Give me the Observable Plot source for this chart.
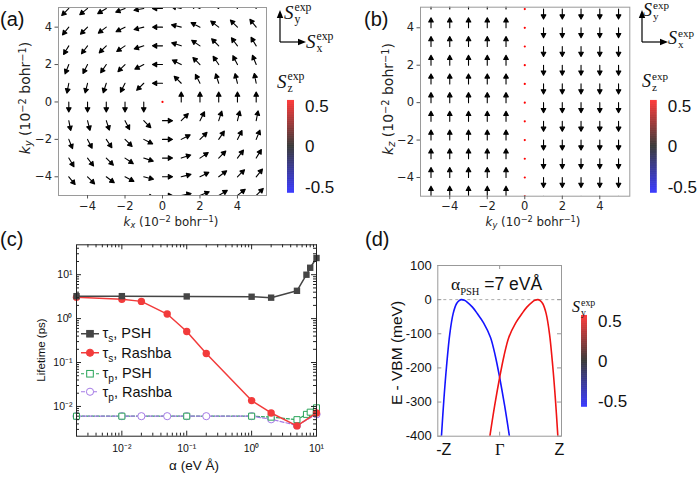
<!DOCTYPE html>
<html><head><meta charset="utf-8">
<script src="https://cdn.jsdelivr.net/npm/d3@7"></script>
<script src="https://cdn.jsdelivr.net/npm/@observablehq/plot@0.6"></script>
<style>
html,body{margin:0;padding:0;background:#fff;}
#root{position:relative;width:700px;height:501px;overflow:hidden;font-family:"Liberation Sans",Arial,sans-serif;color:#111;}
.abs{position:absolute;white-space:nowrap;line-height:1;}
.c{transform:translate(-50%,-50%);}
.rot{transform:translate(-50%,-50%) rotate(-90deg);}
.mpl{font-family:"DejaVu Sans",sans-serif;color:#222;}
.serif{font-family:"Liberation Serif","Times New Roman",serif;}
sup,sub{font-size:70%;line-height:0;}
.mpl sup{vertical-align:0.45em;}
.mpl sub{vertical-align:-0.25em;}
.ssS{font-family:"Liberation Serif",serif;font-style:italic;}
.ssB{display:inline-block;vertical-align:top;font-family:"Liberation Serif",serif;line-height:1;}
.ssB span{display:block;}
.leg{display:flex;align-items:center;font-size:14.5px;}
svg.plot-el{position:absolute;overflow:visible;}
</style></head><body><div id="root"></div>
<script>
// ---------------- DATA ----------------
// (a) in-plane spin texture, rows = ky (top to bottom), cols = kx; angle clockwise from +y, null = no in-plane spin
const kxA = [-5,-4,-3,-2,-1,0,1,2,3,4,5];
const kyA = [5,4,3,2,1,0,-1,-2,-3,-4,-5];
const angA = [
  [-135,-129,-121,-112,-101,-90,-79,-68,-59,-51,-45],
  [-141,-135,-127,-117,-104,-90,-76,-63,-53,-45,-39],
  [-149,-143,-135,-124,-108,-90,-72,-56,-45,-37,-31],
  [-158,-153,-146,-135,-117,-90,-63,-45,-34,-27,-22],
  [-169,-166,-162,-153,-135,-90,-45,-27,-18,-14,-11],
  [180,180,180,180,180,null,0,0,0,0,0],
  [169,166,162,153,135,90,45,27,18,14,11],
  [158,153,146,135,117,90,63,45,34,27,22],
  [149,143,135,124,108,90,72,56,45,37,31],
  [141,135,127,117,104,90,76,63,53,45,39],
  [135,129,121,112,101,90,79,68,59,51,45]
];
// (b) persistent spin helix texture
const kyB = [-5,-4,-3,-2,-1,0,1,2,3,4,5];
const kzB = [-5,-4,-3,-2,-1,0,1,2,3,4,5];
const angB = [0,0,0,0,0,null,180,180,180,180,180];
const axisTicksAB = [-4,-2,0,2,4];
const cbarTicks = [-0.5,0,0.5];

// (c) lifetimes
const alphaPSH = [0.002,0.01,0.1,1,2,5,7,8,10];
const tauS_PSH = [3.25,3.25,3.2,3.15,3.0,4.3,10,14.4,24];
const tauP_PSH = [0.006,0.006,0.006,0.006,0.0057,0.005,0.0066,0.0074,0.0093];
const alphaRashba = [0.002,0.01,0.02,0.05,0.1,0.2,1,2,5,10];
const tauS_Rashba = [3.05,2.75,2.47,1.27,0.51,0.16,0.0136,0.0071,0.0036,0.0071];
const tauP_Rashba = [0.006,0.006,0.006,0.006,0.006,0.006,0.006,0.0051,0.0037,0.0066];
const majorTicksC = [0.01,0.1,1,10];

// (d) bands, k in units of Z
const kBlue = [-0.941,-0.903,-0.860,-0.806,-0.752,-0.698,-0.655,-0.618,-0.570,-0.526,-0.44,-0.364,-0.26,-0.149,-0.07,0.0,0.08,0.158];
const eBlue = [-400,-296,-198,-100,-41,-12,-3,0,-2,-7,-22,-40,-68,-110,-165,-228,-310,-400];
const kRed  = [-0.158,-0.08,0.0,0.07,0.149,0.26,0.364,0.44,0.526,0.570,0.618,0.655,0.698,0.752,0.806,0.860,0.903,0.941];
const eRed  = [-400,-310,-228,-165,-110,-68,-40,-22,-7,-2,0,-3,-12,-41,-100,-198,-296,-400];
const yTicksD = [100,0,-100,-200,-300,-400];

// ---------------- HELPERS ----------------
const root = document.getElementById("root");
function put(svg, left, top) {
  svg.classList.add("plot-el");
  svg.style.left = left + "px"; svg.style.top = top + "px";
  root.appendChild(svg); return svg;
}
function html(s, left, top, cls, css) {
  const d = document.createElement("div");
  d.className = "abs " + (cls || "");
  d.innerHTML = s;
  d.style.left = left + "px"; d.style.top = top + "px";
  if (css) d.style.cssText += css;
  root.appendChild(d); return d;
}
const fmtMinus = d => d < 0 ? "\u2212" + Math.abs(d) : String(d);
const supMap = {"-":"\u207B","0":"\u2070","1":"\u00B9","2":"\u00B2","3":"\u00B3"};
const fmtPow = d => "10" + String(Math.round(Math.log10(d))).split("").map(c => supMap[c]).join("");

const quiverShape = {
  draw(ctx, l) {
    const hl = 4.2, hw = 2.3;
    ctx.moveTo(0, 0);
    ctx.lineTo(0, -(l - hl));
    ctx.moveTo(-hw, -(l - hl));
    ctx.lineTo(0, -l);
    ctx.lineTo(hw, -(l - hl));
    ctx.closePath();
  }
};

function quiverPlot(rows, {width, left, right, top, bottom, xdom, ydom}) {
  const arrows = rows.filter(d => d.a !== null);
  const dots = rows.filter(d => d.a === null);
  return Plot.plot({
    width, height: 230,
    marginLeft: left, marginRight: right, marginTop: top, marginBottom: bottom,
    style: {fontFamily: "DejaVu Sans, sans-serif", fontSize: "11.5px", color: "#222", background: "transparent"},
    x: {domain: xdom}, y: {domain: ydom},
    marks: [
      Plot.vector(arrows, {x: "kx", y: "ky", rotate: "a", length: 10, anchor: "start", shape: quiverShape,
        stroke: "#000", fill: "#000", strokeWidth: 1.1, clip: true}),
      Plot.dot(dots, {x: "kx", y: "ky", r: 1.1, fill: "#ff0000", clip: true}),
      Plot.frame({stroke: "#9a9a9a"}),
      Plot.axisX(axisTicksAB, {tickSize: 3.5, tickPadding: 2.5, tickFormat: fmtMinus, label: null, stroke: "#555"}),
      Plot.axisY(axisTicksAB, {tickSize: 3.5, tickPadding: 3, tickFormat: fmtMinus, label: null, stroke: "#555"})
    ]
  });
}

function colorbar(barW, barH) {
  const vals = d3.range(-0.57, 0.57, 0.005);
  return Plot.plot({
    width: barW + 50, height: barH + 20,
    marginLeft: 0, marginRight: 50, marginTop: 10, marginBottom: 10,
    x: {domain: [0, 1], axis: null},
    y: {domain: [-0.57, 0.57]},
    color: {type: "linear", domain: [-0.57, 0, 0.57], range: ["#0000ff", "#000000", "#ff0000"], interpolate: "rgb"},
    style: {fontFamily: "Liberation Sans, Arial, sans-serif", fontSize: "17px", color: "#111", background: "transparent"},
    marks: [
      Plot.rect(vals, {x1: 0, x2: 1, y1: d => d, y2: d => d + 0.0056, fill: d => d}),
      Plot.axisY(cbarTicks, {anchor: "right", tickSize: 0, tickPadding: 10.5, tickFormat: d => String(d), label: null})
    ]
  });
}

// ---------------- PANEL (a) ----------------
const rowsA = [];
kyA.forEach((ky, i) => kxA.forEach((kx, j) => rowsA.push({kx, ky, a: angA[i][j]})));
put(quiverPlot(rowsA, {width: 280, left: 58, right: 14, top: 7, bottom: 35, xdom: [-5.55, 5.55], ydom: [-5, 5.05]}), 0, 0);

// ---------------- PANEL (b) ----------------
const rowsB = [];
kzB.forEach(kz => kyB.forEach((ky, j) => rowsB.push({kx: ky, ky: kz, a: angB[j]})));
put(quiverPlot(rowsB, {width: 290, left: 70, right: 10.7, top: 6.7, bottom: 34.3, xdom: [-5.56, 5.6], ydom: [-5, 5.1]}), 350, 0);

// colorbars
put(colorbar(7, 92.7), 287.3, 90);
put(colorbar(6.7, 92.7), 650, 90);

// ---------------- PANEL (c) ----------------
const WC = 240, HC = 191.4;
const decades = [0.001, 0.01, 0.1, 1, 10];
const mant = [2,3,4,5,6,7,8,9];
const minorX = decades.flatMap(d => mant.map(m => m * d)).filter(v => v > 0.002 && v < 10);
const minorY = decades.flatMap(d => mant.map(m => m * d)).filter(v => v > 0.0021 && v < 48);
const majorY = majorTicksC;
const rS_PSH = alphaPSH.map((a, i) => ({a, t: tauS_PSH[i]}));
const rP_PSH = alphaPSH.map((a, i) => ({a, t: tauP_PSH[i]}));
const rS_R = alphaRashba.map((a, i) => ({a, t: tauS_Rashba[i]}));
const rP_R = alphaRashba.map((a, i) => ({a, t: tauP_Rashba[i]}));
const colPSH = "#454545", colR = "#f23b3b", colPP = "#2aa55a", colPR = "#a57be6";
put(Plot.plot({
  width: 350, height: 271,
  marginLeft: 76, marginRight: 34, marginTop: 14.3, marginBottom: 65.3,
  x: {type: "log", domain: [0.002, 10]},
  y: {type: "log", domain: [0.0021, 48]},
  style: {fontFamily: "Liberation Sans, Arial, sans-serif", fontSize: "10.5px", color: "#111", background: "transparent"},
  marks: [
    Plot.line(rP_PSH, {x: "a", y: "t", stroke: colPP, strokeWidth: 1.2, strokeDasharray: "3,2"}),
    Plot.line(rP_R, {x: "a", y: "t", stroke: colPR, strokeWidth: 1.2, strokeDasharray: "4,2"}),
    Plot.dot(rP_R, {x: "a", y: "t", symbol: "circle", r: 3.6, fill: "white", stroke: colPR, strokeWidth: 1}),
    Plot.dot(rP_PSH, {x: "a", y: "t", symbol: "square", r: 3.4, fill: "white", stroke: colPP, strokeWidth: 1}),
    Plot.line(rS_R, {x: "a", y: "t", stroke: colR, strokeWidth: 1.5}),
    Plot.dot(rS_R, {x: "a", y: "t", symbol: "circle", r: 3.7, fill: colR}),
    Plot.line(rS_PSH, {x: "a", y: "t", stroke: colPSH, strokeWidth: 1.5}),
    Plot.dot(rS_PSH, {x: "a", y: "t", symbol: "square", r: 3.6, fill: colPSH}),
    Plot.frame({stroke: "#222"}),
    Plot.tickX(majorTicksC, {x: d => d, insetTop: HC - 5, stroke: "#222"}),
    Plot.tickX(majorTicksC, {x: d => d, insetBottom: HC - 5, stroke: "#222"}),
    Plot.tickX(minorX, {x: d => d, insetTop: HC - 3, stroke: "#222"}),
    Plot.tickX(minorX, {x: d => d, insetBottom: HC - 3, stroke: "#222"}),
    Plot.tickY(majorY, {y: d => d, insetRight: WC - 5, stroke: "#222"}),
    Plot.tickY(majorY, {y: d => d, insetLeft: WC - 5, stroke: "#222"}),
    Plot.tickY(minorY, {y: d => d, insetRight: WC - 3, stroke: "#222"}),
    Plot.tickY(minorY, {y: d => d, insetLeft: WC - 3, stroke: "#222"}),
    Plot.axisX(majorTicksC, {tickSize: 0, tickPadding: 8, tickFormat: fmtPow, label: null}),
    Plot.axisY(majorY, {tickSize: 0, tickPadding: 4, tickFormat: fmtPow, label: null})
  ]
}), 0, 230);

// ---------------- PANEL (d) ----------------
const WD = 123.7, HD = 170.7;
const rBlue = kBlue.map((k, i) => ({k, e: eBlue[i]}));
const rRed = kRed.map((k, i) => ({k, e: eRed[i]}));
put(Plot.plot({
  width: 350, height: 271,
  marginLeft: 87.3, marginRight: 139, marginTop: 35, marginBottom: 65.3,
  x: {domain: [-1, 1]},
  y: {domain: [-400, 100]},
  style: {fontFamily: "Liberation Sans, Arial, sans-serif", fontSize: "13px", color: "#111", background: "transparent"},
  marks: [
    Plot.ruleY([0], {stroke: "#aaa", strokeDasharray: "3,3", strokeWidth: 1}),
    Plot.line(rBlue, {x: "k", y: "e", stroke: "#1414ff", strokeWidth: 1.6, curve: "catmull-rom", clip: true}),
    Plot.line(rRed, {x: "k", y: "e", stroke: "#f01414", strokeWidth: 1.6, curve: "catmull-rom", clip: true}),
    Plot.frame({stroke: "#999"}),
    Plot.tickY(yTicksD, {y: d => d, insetRight: WD - 4, stroke: "#999"}),
    Plot.tickY(yTicksD, {y: d => d, insetLeft: WD - 4, stroke: "#999"}),
    Plot.tickX([0], {x: d => d, insetTop: HD - 4, stroke: "#999"}),
    Plot.tickX([0], {x: d => d, insetBottom: HD - 4, stroke: "#999"}),
    Plot.axisY(yTicksD, {tickSize: 0, tickPadding: 6, tickFormat: d => String(d), label: null}),
    Plot.axisX([-1], {tickSize: 0, tickPadding: 7, tickFormat: () => "-Z", fontSize: 16, dx: 6, label: null}),
    Plot.axisX([1], {tickSize: 0, tickPadding: 7, tickFormat: () => "Z", fontSize: 16, dx: -2, label: null}),
    Plot.axisX([0], {tickSize: 0, tickPadding: 7, tickFormat: () => "\u0393", fontSize: 16.5, fontFamily: "Liberation Serif, serif", label: null})
  ]
}), 350, 230);
put(colorbar(6, 91.7), 581, 305);

// ---------------- TEXT / LEGENDS ----------------
html("(a)", 0, 9, "", "font-size:20px;");
html("(b)", 364, 9, "", "font-size:20px;");
html("(c)", 0, 229, "", "font-size:20px;");
html("(d)", 365, 229, "", "font-size:20px;");

const kLab = (a) => `<i>k</i><sub><i>${a}</i></sub> (10<sup>\u22122</sup> bohr<sup>\u22121</sup>)`;
html(kLab("x"), 171, 223, "c mpl", "font-size:11.8px;");
html(kLab("y"), 25, 98, "rot mpl", "font-size:14px;");
html(kLab("y"), 533, 223, "c mpl", "font-size:11.8px;");
html(kLab("z"), 388, 99, "rot mpl", "font-size:14px;");

function ssLabel(sub, left, top, size) {
  return html(`<span class="ssS" style="font-size:${size}px">S</span><span class="ssB" style="font-size:${size*0.62}px;margin-left:1px;margin-top:${-size*0.05}px"><span>exp</span><span>${sub}</span></span>`, left, top, "");
}
function axesGlyph(left, top) {
  const s = `<svg width="40" height="40" style="overflow:visible">
    <line x1="5" y1="32" x2="5" y2="4" stroke="#000" stroke-width="1.2"/>
    <path d="M1.8,8 L5,0 L8.2,8 Z" fill="#000"/>
    <line x1="5" y1="32" x2="26" y2="32" stroke="#000" stroke-width="1.2"/>
    <path d="M23,28.8 L31,32 L23,35.2 Z" fill="#000"/></svg>`;
  return html(s, left, top, "");
}
axesGlyph(275, 10);
ssLabel("y", 284, 3, 19);
ssLabel("x", 306, 32, 19);
ssLabel("z", 277, 72, 19);
axesGlyph(637, 10);
ssLabel("y", 643, 1, 18);
ssLabel("x", 668, 29, 18);
ssLabel("z", 642, 72, 18);
ssLabel("y", 572, 299, 16);

// (c) axis labels
html("Lifetime (ps)", 42, 350, "rot", "font-size:11.5px;");
html("\u03B1 (eV \u00C5)", 194, 466, "c", "font-size:13.5px;");
// (d) axis label and annotation
html("E - VBM (meV)", 396.5, 353, "rot", "font-size:15.5px;");
html(`<span class="serif">\u03B1<sub style="font-size:60%">PSH</sub></span> =7 eV\u00C5`, 451, 276, "", "font-size:17.5px;");

// (c) legend
function legItem(y, col, symbol, filled, dash, label) {
  const sym = symbol === "square"
    ? `<rect x="5.7" y="2.7" width="6.6" height="6.6" fill="${filled ? col : "white"}" stroke="${col}" stroke-width="1"/>`
    : `<circle cx="9" cy="6" r="3.6" fill="${filled ? col : "white"}" stroke="${col}" stroke-width="1"/>`;
  const svg = `<svg width="18" height="12" style="overflow:visible;margin-right:4px"><line x1="0" y1="6" x2="18" y2="6" stroke="${col}" stroke-width="${filled ? 1.5 : 1.2}" ${dash ? `stroke-dasharray="${dash}"` : ""}/>${sym}</svg>`;
  const d = html(svg + `<span>${label}</span>`, 80.5, y, "leg");
  d.style.transform = "translateY(-50%)";
}
legItem(333.3, colPSH, "square", true, null, "\u03C4<sub>s</sub>, PSH");
legItem(352.7, colR, "circle", true, null, "\u03C4<sub>s</sub>, Rashba");
legItem(373.3, colPP, "square", false, "3,2", "\u03C4<sub>p</sub>, PSH");
legItem(391.7, colPR, "circle", false, "4,2", "\u03C4<sub>p</sub>, Rashba");
</script></body></html>
